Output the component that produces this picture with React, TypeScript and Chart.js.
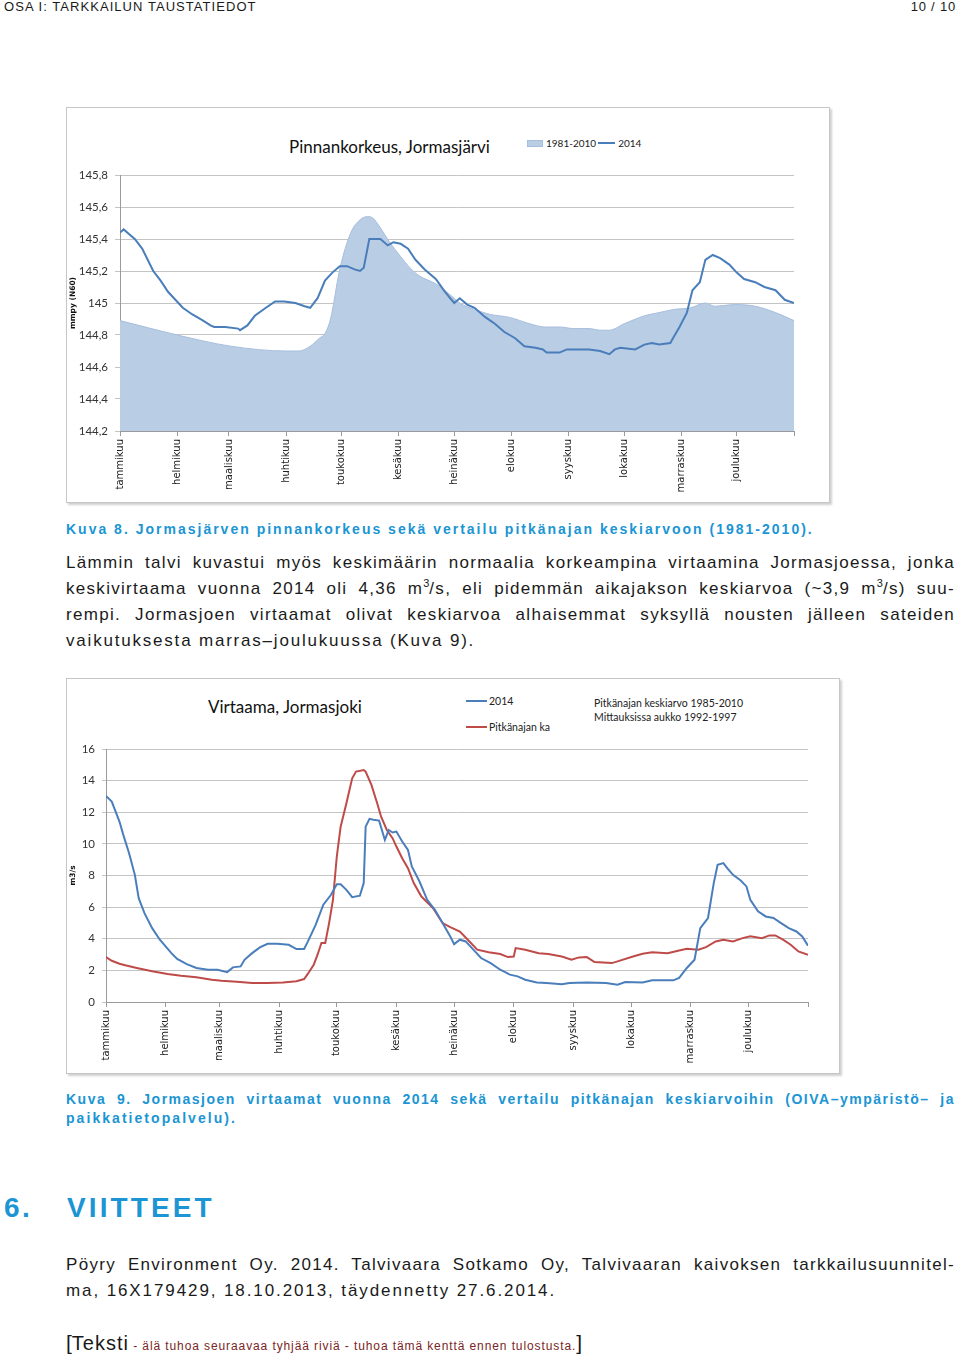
import React, { useEffect, useRef } from "react";
import { Chart, registerables } from "chart.js";

Chart.register(...registerables);

// ---- shared month axis ----
const monthStarts = [0, 31, 59, 90, 120, 151, 181, 212, 243, 273, 304, 334, 365];
const monthNames = [
  "tammikuu", "helmikuu", "maaliskuu", "huhtikuu", "toukokuu", "kesäkuu",
  "heinäkuu", "elokuu", "syyskuu", "lokakuu", "marraskuu", "joulukuu", "",
];

// ---- Chart 1: Pinnankorkeus, Jormasjärvi ----
const levelTicks = [144.2, 144.4, 144.6, 144.8, 145.0, 145.2, 145.4, 145.6, 145.8];
const levelTickLabels = ["144,2", "144,4", "144,6", "144,8", "145", "145,2", "145,4", "145,6", "145,8"];

const level2014Days = [
  0, 2, 5, 8, 12, 15, 18, 22, 26, 30, 34, 39, 45, 49, 51, 57, 64, 65, 69, 73,
  79, 84, 89, 95, 100, 103, 107, 111, 115, 119, 123, 127, 130, 132, 135, 138, 141, 145, 148, 152,
  156, 160, 165, 171, 176, 181, 184, 188, 192, 198, 203, 208, 214, 219, 225, 229, 231, 238, 242, 254,
  260, 265, 268, 271, 279, 284, 288, 292, 298, 300, 303, 307, 310, 314, 317, 321, 325, 330, 334, 338,
  344, 349, 355, 360, 365,
];
const level2014Values = [
  145.44, 145.46, 145.43, 145.40, 145.34, 145.27, 145.20, 145.14, 145.07, 145.02,
  144.97, 144.93, 144.89, 144.86, 144.85, 144.85, 144.84, 144.83, 144.86, 144.92,
  144.97, 145.01, 145.01, 145.00, 144.98, 144.97, 145.03, 145.14, 145.19, 145.23,
  145.23, 145.21, 145.20, 145.22, 145.40, 145.40, 145.40, 145.36, 145.38, 145.37,
  145.34, 145.27, 145.21, 145.15, 145.07, 145.00, 145.03, 144.99, 144.97, 144.91,
  144.87, 144.82, 144.78, 144.73, 144.72, 144.71, 144.69, 144.69, 144.71, 144.71,
  144.70, 144.68, 144.71, 144.72, 144.71, 144.74, 144.75, 144.74, 144.75, 144.79,
  144.85, 144.94, 145.08, 145.13, 145.27, 145.30, 145.28, 145.24, 145.19, 145.15,
  145.13, 145.10, 145.08, 145.02, 145.00,
];

const levelAvgDays = [
  0, 31, 60, 90, 97, 103, 108, 111, 114, 119, 125, 130, 134, 137, 141, 146, 152, 157, 162, 171,
  179, 184, 192, 200, 211, 222, 230, 238, 246, 254, 260, 265, 273, 284, 292, 300, 309, 317, 322, 333,
  344, 355, 365,
];
const levelAvgValues = [
  144.89, 144.80, 144.73, 144.70, 144.70, 144.73, 144.78, 144.81, 144.90, 145.21,
  145.44, 145.52, 145.54, 145.53, 145.47, 145.38, 145.29, 145.22, 145.17, 145.12,
  145.05, 145.00, 144.96, 144.93, 144.91, 144.87, 144.85, 144.85, 144.84, 144.84,
  144.83, 144.83, 144.87, 144.92, 144.94, 144.96, 144.97, 145.00, 144.98, 144.99,
  144.98, 144.94, 144.89,
];

// ---- Chart 2: Virtaama, Jormasjoki ----
const flowTicks = [0, 2, 4, 6, 8, 10, 12, 14, 16];
const flowTickLabels = ["0", "2", "4", "6", "8", "10", "12", "14", "16"];

const flow2014Days = [
  0, 3, 4, 7, 9, 12, 15, 17, 20, 24, 28, 32, 34, 37, 42, 47, 53, 58, 63, 66,
  70, 72, 76, 80, 84, 89, 95, 99, 103, 105, 109, 113, 117, 120, 122, 125, 128, 132, 134, 135,
  137, 139, 142, 145, 147, 149, 151, 154, 157, 159, 163, 167, 171, 175, 179, 181, 184, 187, 191, 195,
  200, 205, 210, 214, 218, 224, 229, 237, 241, 250, 260, 266, 270, 279, 284, 288, 295, 298, 302, 306,
  309, 313, 316, 318, 321, 323, 326, 330, 333, 335, 339, 343, 347, 351, 355, 359, 362, 365,
];
const flow2014Values = [
  13.03, 12.67, 12.36, 11.41, 10.57, 9.41, 8.04, 6.57, 5.62, 4.67,
  3.94, 3.37, 3.09, 2.72, 2.40, 2.15, 2.04, 2.04, 1.89, 2.19,
  2.25, 2.67, 3.09, 3.45, 3.68, 3.68, 3.62, 3.35, 3.35, 3.83,
  4.88, 6.15, 6.78, 7.45, 7.45, 7.09, 6.63, 6.72, 7.52, 11.09,
  11.58, 11.52, 11.47, 10.25, 10.88, 10.72, 10.78, 10.15, 9.62, 8.57,
  7.62, 6.46, 5.83, 4.99, 4.15, 3.66, 3.94, 3.83, 3.31, 2.78,
  2.46, 2.04, 1.73, 1.62, 1.41, 1.24, 1.20, 1.12, 1.20, 1.24,
  1.20, 1.09, 1.26, 1.24, 1.37, 1.37, 1.37, 1.52, 2.15, 2.67,
  4.67, 5.31, 7.52, 8.67, 8.78, 8.46, 8.04, 7.68, 7.31, 6.46,
  5.73, 5.41, 5.31, 4.99, 4.67, 4.46, 4.15, 3.56,
];

const flowAvgDays = [
  0, 3, 7, 10, 16, 24, 32, 39, 47, 55, 60, 68, 76, 84, 92, 99, 103, 105, 108, 110,
  112, 114, 116, 118, 120, 122, 125, 128, 130, 134, 135, 138, 141, 143, 146, 149, 151, 154, 157, 160,
  164, 170, 175, 179, 184, 189, 193, 199, 205, 209, 212, 213, 218, 225, 230, 237, 242, 246, 250, 254,
  263, 266, 274, 279, 284, 292, 298, 302, 308, 312, 317, 321, 326, 331, 335, 341, 345, 348, 352, 356,
  360, 365,
];
const flowAvgValues = [
  2.84, 2.61, 2.42, 2.32, 2.15, 1.94, 1.77, 1.66, 1.56, 1.41,
  1.35, 1.28, 1.20, 1.20, 1.24, 1.31, 1.45, 1.79, 2.36, 2.99,
  3.73, 3.73, 4.99, 6.46, 9.20, 11.09, 12.57, 14.15, 14.57, 14.67,
  14.57, 13.73, 12.57, 11.73, 10.88, 10.36, 9.83, 9.09, 8.46, 7.52,
  6.67, 5.94, 4.99, 4.74, 4.46, 3.83, 3.31, 3.14, 3.03, 2.84,
  2.88, 3.41, 3.31, 3.09, 3.03, 2.88, 2.67, 2.82, 2.84, 2.53,
  2.46, 2.57, 2.88, 3.05, 3.14, 3.09, 3.26, 3.37, 3.31, 3.47,
  3.83, 3.94, 3.83, 4.04, 4.15, 4.04, 4.21, 4.21, 3.94, 3.62,
  3.20, 2.99,
];

const pts = (xs: number[], ys: number[]) => xs.map((x, i) => ({ x, y: ys[i] }));

const BODY_FONT = "'Liberation Sans', Arial, Helvetica, sans-serif";
const CHART_FONT = "Lato, 'Open Sans', sans-serif";
const BLUE_TEXT = "#1b95d3";

function monthAxis(height: number) {
  return {
    type: "linear",
    min: 0,
    max: 365,
    afterBuildTicks: (scale: any) => {
      scale.ticks = monthStarts.map((v) => ({ value: v }));
    },
    afterFit: (scale: any) => {
      scale.height = height;
    },
    ticks: {
      autoSkip: false,
      minRotation: 90,
      maxRotation: 90,
      padding: 3,
      color: "#222",
      font: { family: "'DejaVu Sans', Verdana, sans-serif", size: 10 },
      callback: (v: number) => {
        const i = monthStarts.indexOf(v);
        return i >= 0 ? monthNames[i] : "";
      },
    },
    grid: { drawOnChartArea: false, drawTicks: true, tickLength: 5, color: "#9a9a9a" },
    border: { display: true, color: "#9a9a9a" },
  };
}

function valueAxis(min: number, max: number, tickVals: number[], tickLabels: string[], width: number, title: string, tickLen: number, pad: number) {
  return {
    type: "linear",
    min,
    max,
    afterBuildTicks: (scale: any) => {
      scale.ticks = tickVals.map((v) => ({ value: v }));
    },
    afterFit: (scale: any) => {
      scale.width = width;
    },
    ticks: {
      padding: pad,
      color: "#333",
      font: { family: CHART_FONT, size: 11.5 },
      callback: (v: number) => {
        const i = tickVals.findIndex((t) => Math.abs(t - v) < 1e-6);
        return i >= 0 ? tickLabels[i] : "";
      },
    },
    grid: { drawTicks: true, tickLength: tickLen, color: "#c4c4c4" },
    border: { display: true, color: "#9a9a9a" },
    title: {
      display: true,
      text: title,
      color: "#111",
      font: { family: "'DejaVu Sans', sans-serif", size: 7.5, weight: "bold" },
      padding: { top: 2, bottom: 0 },
    },
  };
}

function useChart(ref: React.RefObject<HTMLCanvasElement | null>, makeConfig: () => any) {
  useEffect(() => {
    if (!ref.current) return;
    const chart = new Chart(ref.current, makeConfig());
    return () => chart.destroy();
  }, []);
}

function LevelChart() {
  const ref = useRef<HTMLCanvasElement>(null);
  useChart(ref, () => ({
    type: "line",
    data: {
      datasets: [
        {
          label: "2014",
          data: pts(level2014Days, level2014Values),
          borderColor: "#4a7ebb",
          borderWidth: 2,
          pointRadius: 0,
          fill: false,
          tension: 0,
        },
        {
          label: "1981-2010",
          data: pts(levelAvgDays, levelAvgValues),
          borderColor: "#a6bedd",
          backgroundColor: "#b9cde5",
          borderWidth: 1,
          pointRadius: 0,
          fill: "start",
          cubicInterpolationMode: "monotone",
        },
      ],
    },
    options: {
      animation: false,
      responsive: false,
      maintainAspectRatio: false,
      layout: { padding: { top: 15, right: 18, bottom: 0, left: 0 } },
      plugins: { legend: { display: false }, title: { display: false }, tooltip: { enabled: false } },
      scales: {
        x: monthAxis(69),
        y: valueAxis(144.2, 145.8, levelTicks, levelTickLabels, 53, "mmpy (N60)", 5, 7),
      },
    },
  }));
  return <canvas ref={ref} width={745} height={340} style={{ position: "absolute", left: 67, top: 160, width: 745, height: 340 }} />;
}

function FlowChart() {
  const ref = useRef<HTMLCanvasElement>(null);
  useChart(ref, () => ({
    type: "line",
    data: {
      datasets: [
        {
          label: "2014",
          data: pts(flow2014Days, flow2014Values),
          borderColor: "#4a7ebb",
          borderWidth: 2,
          pointRadius: 0,
          fill: false,
          tension: 0,
        },
        {
          label: "Pitkänajan ka",
          data: pts(flowAvgDays, flowAvgValues),
          borderColor: "#be4b48",
          borderWidth: 2,
          pointRadius: 0,
          fill: false,
          tension: 0,
        },
      ],
    },
    options: {
      animation: false,
      responsive: false,
      maintainAspectRatio: false,
      layout: { padding: { top: 14, right: 19, bottom: 0, left: 0 } },
      plugins: { legend: { display: false }, title: { display: false }, tooltip: { enabled: false } },
      scales: {
        x: monthAxis(69),
        y: valueAxis(0, 16, flowTicks, flowTickLabels, 39, "m3/s", 4, 7),
      },
    },
  }));
  return <canvas ref={ref} width={760} height={336} style={{ position: "absolute", left: 67, top: 735, width: 760, height: 336 }} />;
}

const abs = (left: number, top: number, extra: React.CSSProperties = {}): React.CSSProperties => ({
  position: "absolute",
  left,
  top,
  margin: 0,
  ...extra,
});

const frameStyle = (left: number, top: number, w: number, h: number): React.CSSProperties => ({
  position: "absolute",
  left,
  top,
  width: w,
  height: h,
  border: "1px solid #c6c6c6",
  boxShadow: "2px 2px 2px #d0d0d0",
  background: "#fff",
  boxSizing: "border-box",
});

const sup = (t: string) => (
  <span style={{ fontSize: 11, position: "relative", top: -7, lineHeight: 0, letterSpacing: 0 }}>{t}</span>
);

// one justified line (stretched to full width) or a plain last line
const JLine = ({ children, last = false, spacing }: { children: React.ReactNode; last?: boolean; spacing: number }) => (
  <div style={{ textAlign: last ? "left" : "justify", textAlignLast: last ? "left" : "justify", letterSpacing: spacing, whiteSpace: "normal" }}>
    {children}
  </div>
);

export default function App() {
  const body: React.CSSProperties = { fontFamily: BODY_FONT, color: "#1a1a1a" };
  return (
    <div style={{ position: "absolute", left: 0, top: 0, width: 960, height: 1358, background: "#fff", ...body }}>
      {/* header */}
      <div style={abs(4, 0, { fontSize: 13, lineHeight: "14px", letterSpacing: 1.05 })}>OSA I: TARKKAILUN TAUSTATIEDOT</div>
      <div style={abs(900, 0, { fontSize: 13, lineHeight: "14px", letterSpacing: 0.8, width: 56, textAlign: "right" })}>10 / 10</div>

      {/* Chart 1 frame */}
      <div style={frameStyle(66, 107, 764, 396)} />
      <div style={abs(289, 136, { fontFamily: CHART_FONT, fontSize: 17, lineHeight: "22px", color: "#111", whiteSpace: "nowrap" })}>Pinnankorkeus, Jormasjärvi</div>
      <div style={abs(527, 137, { display: "flex", alignItems: "center", fontFamily: CHART_FONT, fontSize: 10, lineHeight: "12px", color: "#222", whiteSpace: "nowrap" })}>
        <span style={{ display: "inline-block", width: 16, height: 7, background: "#b9cde5", border: "1px solid #a6bedd", boxSizing: "border-box", marginRight: 3 }} />
        <span>1981-2010</span>
        <span style={{ display: "inline-block", width: 17, height: 2, background: "#4a7ebb", margin: "0 3px 0 2px" }} />
        <span>2014</span>
      </div>
      <LevelChart />

      {/* Caption 1 */}
      <div style={abs(66, 520, { fontSize: 14, lineHeight: "18px", fontWeight: "bold", color: BLUE_TEXT, letterSpacing: 2.0, whiteSpace: "nowrap" })}>
        Kuva 8. Jormasjärven pinnankorkeus sekä vertailu pitkänajan keskiarvoon (1981-2010).
      </div>

      {/* Body paragraph */}
      <div style={abs(66, 550, { width: 889, fontSize: 17, lineHeight: "26px" })}>
        <JLine spacing={1.3}>Lämmin talvi kuvastui myös keskimäärin normaalia korkeampina virtaamina Jormasjoessa, jonka</JLine>
        <JLine spacing={1.3}>keskivirtaama vuonna 2014 oli 4,36 m{sup("3")}/s, eli pidemmän aikajakson keskiarvoa (~3,9 m{sup("3")}/s) suu-</JLine>
        <JLine spacing={1.3}>rempi. Jormasjoen virtaamat olivat keskiarvoa alhaisemmat syksyllä nousten jälleen sateiden</JLine>
        <JLine spacing={1.8} last>vaikutuksesta marras–joulukuussa (Kuva 9).</JLine>
      </div>

      {/* Chart 2 frame */}
      <div style={frameStyle(66, 678, 774, 396)} />
      <div style={abs(208, 696, { fontFamily: CHART_FONT, fontSize: 17, lineHeight: "22px", color: "#111", whiteSpace: "nowrap" })}>Virtaama, Jormasjoki</div>
      <div style={abs(466, 694, { display: "flex", alignItems: "center", fontFamily: CHART_FONT, fontSize: 10.5, lineHeight: "14px", color: "#222", whiteSpace: "nowrap" })}>
        <span style={{ display: "inline-block", width: 21, height: 2, background: "#4a7ebb", marginRight: 2 }} />
        <span>2014</span>
      </div>
      <div style={abs(466, 720, { display: "flex", alignItems: "center", fontFamily: CHART_FONT, fontSize: 10.5, lineHeight: "14px", color: "#222", whiteSpace: "nowrap" })}>
        <span style={{ display: "inline-block", width: 21, height: 2, background: "#be4b48", marginRight: 2 }} />
        <span>Pitkänajan ka</span>
      </div>
      <div style={abs(594, 696, { fontFamily: CHART_FONT, fontSize: 10.5, lineHeight: "14px", color: "#222", whiteSpace: "nowrap" })}>
        Pitkänajan keskiarvo 1985-2010<br />Mittauksissa aukko 1992-1997
      </div>
      <FlowChart />

      {/* Caption 2 */}
      <div style={abs(66, 1090, { width: 889, fontSize: 14, lineHeight: "19px", fontWeight: "bold", color: BLUE_TEXT })}>
        <JLine spacing={1.5}>Kuva 9. Jormasjoen virtaamat vuonna 2014 sekä vertailu pitkänajan keskiarvoihin (OIVA–ympäristö– ja</JLine>
        <JLine spacing={2.05} last>paikkatietopalvelu).</JLine>
      </div>

      {/* Heading */}
      <div style={abs(4, 1191, { fontSize: 28, lineHeight: "34px", fontWeight: "bold", color: BLUE_TEXT, letterSpacing: 2.5 })}>6.</div>
      <div style={abs(67, 1191, { fontSize: 28, lineHeight: "34px", fontWeight: "bold", color: BLUE_TEXT, letterSpacing: 3.1 })}>VIITTEET</div>

      {/* Reference */}
      <div style={abs(66, 1252, { width: 889, fontSize: 17, lineHeight: "26px" })}>
        <JLine spacing={1.3}>Pöyry Environment Oy. 2014. Talvivaara Sotkamo Oy, Talvivaaran kaivoksen tarkkailusuunnitel-</JLine>
        <JLine spacing={1.9} last>ma, 16X179429, 18.10.2013, täydennetty 27.6.2014.</JLine>
      </div>

      {/* Placeholder field */}
      <div style={abs(66, 1330, { whiteSpace: "nowrap", lineHeight: "26px" })}>
        <span style={{ fontSize: 21 }}>[</span>
        <span style={{ fontSize: 20, letterSpacing: 1 }}>Teksti</span>
        <span style={{ fontSize: 12, color: "#7a2525", letterSpacing: 0.9 }}> - älä tuhoa seuraavaa tyhjää riviä - tuhoa tämä kenttä ennen tulostusta.</span>
        <span style={{ fontSize: 21 }}>]</span>
      </div>
    </div>
  );
}
